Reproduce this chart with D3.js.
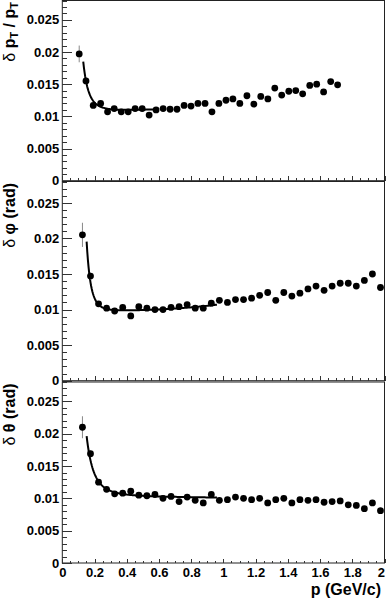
<!DOCTYPE html>
<html>
<head>
<meta charset="utf-8">
<script src="https://cdn.jsdelivr.net/npm/d3@7"></script>
<style>
  html, body { margin: 0; padding: 0; background: #fff; }
  svg { display: block; }
  .tick text { font-family: "Liberation Sans", Arial, sans-serif; font-weight: bold; font-size: 13px; fill: #000; }
  .tick line { stroke: #333; }
  .title { font-family: "Liberation Sans", Arial, sans-serif; font-weight: bold; font-size: 16px; fill: #000; }
</style>
</head>
<body>
<svg width="386" height="600"></svg>
<script>
// momentum of each point (top panel binned a bit finer than the other two)
var pTop = [0.105, 0.147, 0.192, 0.238, 0.281, 0.322, 0.366, 0.409, 0.452, 0.496,
	0.539, 0.582, 0.626, 0.669, 0.712, 0.756, 0.799, 0.842, 0.886, 0.929,
	0.972, 1.016, 1.059, 1.102, 1.146, 1.189, 1.232, 1.276, 1.319, 1.362,
	1.406, 1.449, 1.492, 1.536, 1.579, 1.622, 1.666, 1.709];
var pBins = [0.125, 0.175, 0.225, 0.275, 0.325, 0.375, 0.425, 0.475, 0.525, 0.575,
	0.625, 0.675, 0.725, 0.775, 0.825, 0.875, 0.925, 0.975, 1.025, 1.075,
	1.125, 1.175, 1.225, 1.275, 1.325, 1.375, 1.425, 1.475, 1.525, 1.575,
	1.625, 1.675, 1.725, 1.775, 1.825, 1.875, 1.925, 1.975];

// resolutions
var resPt = [0.0197, 0.0155, 0.0117, 0.0120, 0.0107, 0.0112, 0.0107, 0.0107, 0.0112, 0.0112,
	0.0102, 0.0110, 0.0112, 0.0111, 0.0111, 0.0117, 0.0116, 0.0120, 0.0120, 0.0107,
	0.0120, 0.0125, 0.0127, 0.0120, 0.0132, 0.0119, 0.0131, 0.0127, 0.0144, 0.0133,
	0.0139, 0.0140, 0.0135, 0.0148, 0.0150, 0.0138, 0.0154, 0.0149];
var resPhi = [0.0205, 0.0147, 0.0108, 0.0102, 0.0098, 0.0103, 0.0091, 0.0104, 0.0102, 0.0100,
	0.0100, 0.0103, 0.0104, 0.0107, 0.0102, 0.0102, 0.0109, 0.0113, 0.0110, 0.0114,
	0.0114, 0.0116, 0.0120, 0.0124, 0.0113, 0.0124, 0.0119, 0.0123, 0.0129, 0.0133,
	0.0127, 0.0133, 0.0137, 0.0137, 0.0133, 0.0141, 0.0150, 0.0131];
var resTheta = [0.0210, 0.0169, 0.0125, 0.0114, 0.0107, 0.0108, 0.0111, 0.0105, 0.0104, 0.0106,
	0.0100, 0.0103, 0.0095, 0.0102, 0.0097, 0.0093, 0.0106, 0.0097, 0.0098, 0.0102,
	0.0100, 0.0098, 0.0100, 0.0093, 0.0098, 0.0100, 0.0093, 0.0098, 0.0097, 0.0098,
	0.0094, 0.0095, 0.0096, 0.0090, 0.0089, 0.0084, 0.0093, 0.0081];

// errors (only the first points have bars longer than the marker)
var errPt = [0.0013, 0.0004];
var errPhi = [0.0017, 0.0005];
var errTheta = [0.0017, 0.0005];

// fit: a + b / p^n + c * p^k, and its p range
var fitPt = [0.0106, 2.23e-6, 4, 0.0008, 1];
var fitPtRange = [0.13, 0.6];
var fitPhi = [0.0098, 1.155e-7, 6, 0.001, 3];
var fitPhiRange = [0.151, 0.96];
var fitTheta = [0.0104, 1.24e-5, 3.5, -0.0003, 1];
var fitThetaRange = [0.151, 0.96];

var yTicks = [0, 0.005, 0.01, 0.015, 0.02, 0.025];
var xTicks = [0, 0.2, 0.4, 0.6, 0.8, 1, 1.2, 1.4, 1.6, 1.8, 2];

var svg = d3.select("svg");
var left = 62.3, right = 384.5;

var x = d3.scaleLinear().domain([0, 2]).range([left, right]);

var panels = [
	{ p: pTop, v: resPt, e: errPt, fit: fitPt, fr: fitPtRange, top: 0.5, bottom: 180.7, title: ["δ", " p", "T", " / p", "T"] },
	{ p: pBins, v: resPhi, e: errPhi, fit: fitPhi, fr: fitPhiRange, top: 181.5, bottom: 380.7, title: ["δ", " φ (rad)"] },
	{ p: pBins, v: resTheta, e: errTheta, fit: fitTheta, fr: fitThetaRange, top: 382, bottom: 563, title: ["δ", " θ (rad)"] }
];

function fmt(d) { return d === 0 ? "0" : String(+d.toFixed(3)); }

panels.forEach(function (pn, i) {
	var y = d3.scaleLinear().domain([0, 0.028]).range([pn.bottom, pn.top]);
	var g = svg.append("g");

	// frame
	g.append("rect")
		.attr("x", left).attr("y", pn.top)
		.attr("width", right - left).attr("height", pn.bottom - pn.top)
		.attr("fill", "none").attr("stroke", "#222").attr("stroke-width", 1);

	// y axis, ticks pointing inside
	var minorY = d3.range(0, 0.0285, 0.001).filter(function (d) { return Math.abs(d * 200 - Math.round(d * 200)) > 1e-6; });
	g.append("g").attr("transform", "translate(" + left + ",0)")
		.call(d3.axisLeft(y).tickValues(minorY).tickSize(-4.8).tickFormat(""))
		.call(function (s) { s.select(".domain").remove(); });
	g.append("g").attr("transform", "translate(" + left + ",0)")
		.call(d3.axisLeft(y).tickValues(yTicks).tickSize(-9.5).tickPadding(3).tickFormat(fmt))
		.call(function (s) { s.select(".domain").remove(); });

	// x axis, ticks pointing up
	var minorX = d3.range(0, 2.001, 0.05).filter(function (d) { return Math.abs(d * 5 - Math.round(d * 5)) > 1e-6; });
	g.append("g").attr("transform", "translate(0," + pn.bottom + ")")
		.call(d3.axisBottom(x).tickValues(minorX).tickSize(-2.5).tickFormat(""))
		.call(function (s) { s.select(".domain").remove(); });
	var xa = g.append("g").attr("transform", "translate(0," + pn.bottom + ")")
		.call(d3.axisBottom(x).tickValues(xTicks).tickSize(-4.5).tickPadding(2).tickFormat(i === 2 ? fmt : ""));
	xa.select(".domain").remove();
	xa.selectAll("text").attr("dy", "0.9em")
		.filter(function (d) { return d === 2; })
		.attr("text-anchor", "end").attr("x", 0);

	svg.selectAll(".tick line").attr("shape-rendering", "crispEdges");

	// y title, aligned with top of axis
	var t = g.append("text").attr("class", "title")
		.attr("text-anchor", "end")
		.attr("transform", "translate(14.5," + (pn.top + 1.5) + ") rotate(-90)");
	pn.title.forEach(function (s, k) {
		var ts = t.append("tspan").text(s);
		if (k === 0) ts.attr("font-weight", "normal");
		if (s === "T") ts.attr("font-size", "11px").attr("baseline-shift", "-25%");
	});

	// fit curve
	var f = pn.fit;
	var fp = d3.range(pn.fr[0], pn.fr[1], 0.004).concat([pn.fr[1]]);
	g.append("path")
		.datum(fp)
		.attr("fill", "none").attr("stroke", "#000").attr("stroke-width", 2)
		.attr("d", d3.line()
			.x(function (p) { return x(p); })
			.y(function (p) { return y(f[0] + f[1] / Math.pow(p, f[2]) + f[3] * Math.pow(p, f[4])); }));

	var pts = pn.p.map(function (p, k) { return { p: p, v: pn.v[k], e: pn.e[k] || 0 }; });

	g.selectAll(".err")
		.data(pts.filter(function (d) { return d.e > 0; }))
		.enter().append("line")
		.attr("x1", function (d) { return x(d.p); }).attr("x2", function (d) { return x(d.p); })
		.attr("y1", function (d) { return y(d.v - d.e); }).attr("y2", function (d) { return y(d.v + d.e); })
		.attr("stroke", "#888").attr("stroke-width", 1);

	g.selectAll(".pt")
		.data(pts)
		.enter().append("circle")
		.attr("cx", function (d) { return x(d.p); })
		.attr("cy", function (d) { return y(d.v); })
		.attr("r", 3.4)
		.attr("fill", "#000");
});

// x title
svg.append("text").attr("class", "title")
	.attr("x", 381).attr("y", 595)
	.attr("text-anchor", "end")
	.text("p (GeV/c)");
</script>
</body>
</html>
